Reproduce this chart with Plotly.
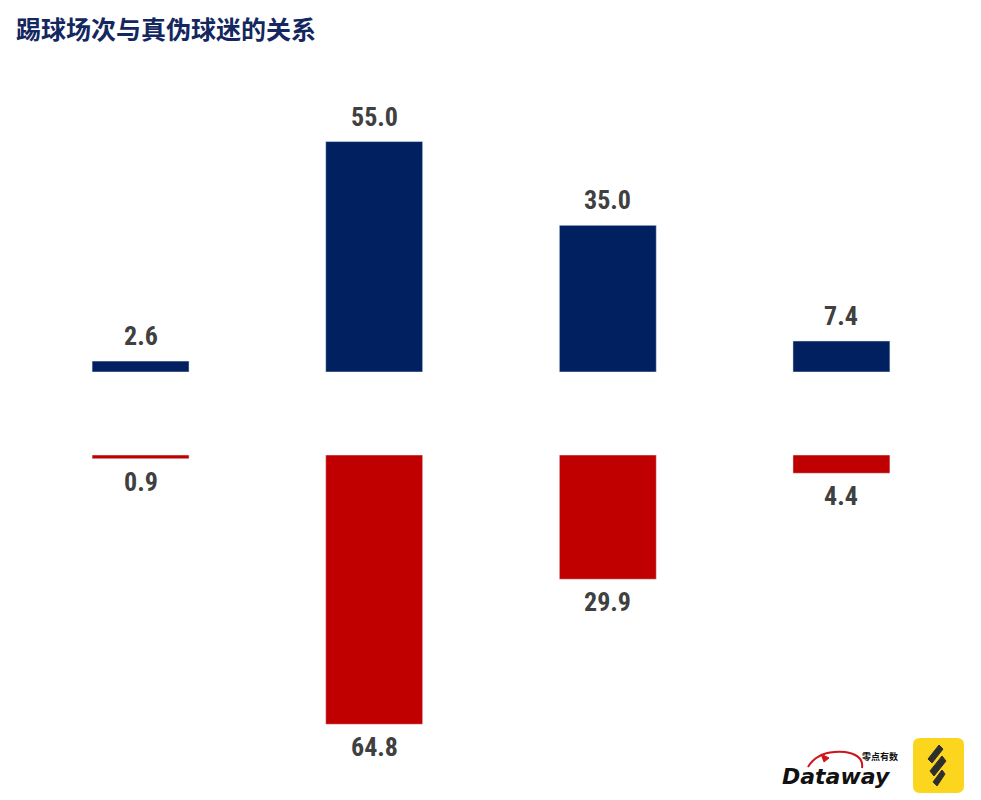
import plotly.graph_objects as go
from plotly.subplots import make_subplots

categories = ["第一组", "第二组", "第三组", "第四组"]
true_fans = [2.6, 55.0, 35.0, 7.4]
fake_fans = [0.9, 64.8, 29.9, 4.4]

OFF = 8
W, H = 981 - OFF, 800 - OFF
def px(x): return (x - OFF) / W
def py(y): return 1 - (y - OFF) / H

BLUE = "#002060"
RED = "#C00000"
LABEL = "#404040"
LFONT = "Liberation Sans Narrow, Arial Narrow, Roboto Condensed, DejaVu Sans Condensed, sans-serif"

fig = make_subplots(rows=2, cols=1)
fig.add_trace(go.Bar(x=categories, y=true_fans, marker_color=BLUE, name="真球迷",
                     hoverinfo="x+y"), row=1, col=1)
fig.add_trace(go.Bar(x=categories, y=fake_fans, marker_color=RED, name="伪球迷",
                     hoverinfo="x+y"), row=2, col=1)

xdom = [px(23.75), px(958.25)]
fig.update_layout(
    width=W, height=H, margin=dict(l=0, r=0, t=0, b=0),
    plot_bgcolor="white", paper_bgcolor="white",
    showlegend=False, bargap=0.585,
    xaxis=dict(domain=xdom, visible=False, anchor="y"),
    xaxis2=dict(domain=xdom, visible=False, anchor="y2"),
    yaxis=dict(domain=[py(372), py(100)], range=[0, (372 - 100) / 4.19], visible=False),
    yaxis2=dict(domain=[py(740), py(455)], range=[(740 - 455) / 4.156, 0], visible=False),
)

ann = []
for c, v in zip(categories, true_fans):
    ann.append(dict(x=c, y=v, xref="x", yref="y", text=f"{v:.1f}", showarrow=False,
                    yanchor="bottom", yshift=8,
                    font=dict(family=LFONT, size=26, color=LABEL, weight="bold")))
for c, v in zip(categories, fake_fans):
    ann.append(dict(x=c, y=v, xref="x2", yref="y2", text=f"{v:.1f}", showarrow=False,
                    yanchor="top", yshift=-6,
                    font=dict(family=LFONT, size=26, color=LABEL, weight="bold")))

# title
ann.append(dict(x=px(14), y=py(28), xref="paper", yref="paper", xanchor="left", yanchor="middle",
                text="<b>踢球场次与真伪球迷的关系</b>", showarrow=False,
                font=dict(family="Noto Sans CJK SC, sans-serif", size=25, color="#14285F")))

# Dataway logo text
ann.append(dict(x=px(836), y=py(776), xref="paper", yref="paper", xanchor="center", yanchor="middle",
                text="<b><i>Dataway</i></b>", showarrow=False,
                font=dict(family="DejaVu Sans, sans-serif", size=22, color="#111111")))
ann.append(dict(x=px(880), y=py(756), xref="paper", yref="paper", xanchor="center", yanchor="middle",
                text="<b>零点有数</b>", showarrow=False,
                font=dict(family="Noto Sans CJK SC, sans-serif", size=9, color="#111111")))
fig.update_layout(annotations=ann)

shapes = []
# red swoosh of Dataway logo
shapes.append(dict(type="path", xref="paper", yref="paper",
                   path=f"M {px(808)},{py(767)} Q {px(818)},{py(750)} {px(845)},{py(752)} Q {px(864)},{py(755)} {px(862)},{py(768)}",
                   line=dict(color="#D0141E", width=2)))
shapes.append(dict(type="path", xref="paper", yref="paper",
                   path=f"M {px(821)},{py(754)} L {px(829)},{py(758)} L {px(824)},{py(762)} Z",
                   fillcolor="#D0141E", line=dict(color="#D0141E", width=1)))
# yellow logo
x0, x1, y0, y1, r = 913, 964, 738, 793, 7
shapes.append(dict(type="path", xref="paper", yref="paper",
                   path=(f"M {px(x0+r)},{py(y0)} L {px(x1-r)},{py(y0)} Q {px(x1)},{py(y0)} {px(x1)},{py(y0+r)} "
                         f"L {px(x1)},{py(y1-r)} Q {px(x1)},{py(y1)} {px(x1-r)},{py(y1)} "
                         f"L {px(x0+r)},{py(y1)} Q {px(x0)},{py(y1)} {px(x0)},{py(y1-r)} "
                         f"L {px(x0)},{py(y0+r)} Q {px(x0)},{py(y0)} {px(x0+r)},{py(y0)} Z"),
                   fillcolor="#FBD51E", line=dict(width=0)))
bands = [
    [(939, 745), (943, 749), (932, 763), (928, 759)],
    [(942, 756), (946, 761), (934, 776), (930, 771)],
    [(942, 770), (945, 774), (937, 786), (933, 782)],
]
for pts in bands:
    path = "M " + " L ".join(f"{px(a)},{py(b)}" for a, b in pts) + " Z"
    shapes.append(dict(type="path", xref="paper", yref="paper", path=path,
                       fillcolor="#2E2E2E", line=dict(color="#2E2E2E", width=1)))
fig.update_layout(shapes=shapes)

fig.write_html("out.html")
